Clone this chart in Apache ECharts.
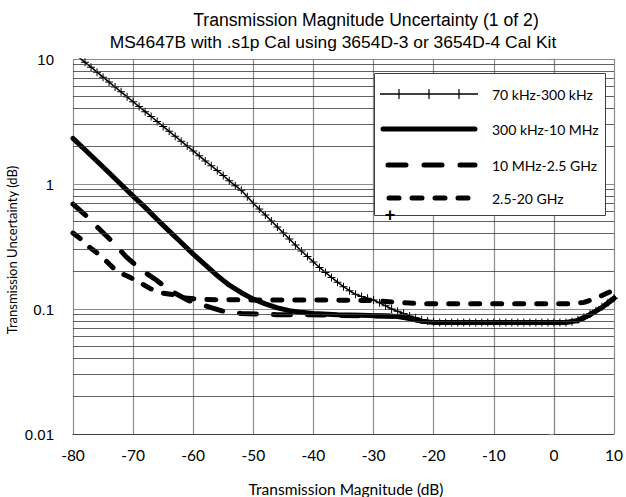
<!DOCTYPE html>
<html>
<head>
<meta charset="utf-8">
<script src="https://cdn.jsdelivr.net/npm/echarts@6/dist/echarts.min.js"></script>
<style>
html,body{margin:0;padding:0;background:#fff;}
#chart{width:626px;height:497px;}
</style>
</head>
<body>
<div id="chart"></div>
<script>
// ---- data ----
const titleLine1 = 'Transmission Magnitude Uncertainty (1 of 2)';
const titleLine2 = 'MS4647B with .s1p Cal using 3654D-3 or 3654D-4 Cal Kit';
const xAxisTitle = 'Transmission Magnitude (dB)';
const yAxisTitle = 'Transmission Uncertainty (dB)';
const seriesNames = ['70 kHz-300 kHz', '300 kHz-10 MHz', '10 MHz-2.5 GHz', '2.5-20 GHz'];
const yTickLabels = ['0.01', '0.1', '1', '10'];
const minorGridValues = [0.02,0.03,0.04,0.05,0.06,0.07,0.08,0.09,0.2,0.3,0.4,0.5,0.6,0.7,0.8,0.9,2,3,4,5,6,7,8,9];

// 70 kHz-300 kHz (one point per dB)
const x1 = [-80,-79,-78,-77,-76,-75,-74,-73,-72,-71,-70,-69,-68,-67,-66,-65,-64,-63,-62,-61,-60,-59,-58,-57,-56,-55,-54,-53,-52,-51,-50,-49,-48,-47,-46,-45,-44,-43,-42,-41,-40,-39,-38,-37,-36,-35,-34,-33,-32,-31,-30,-29,-28,-27,-26,-25,-24,-23,-22,-21,-20,-19,-18,-17,-16,-15,-14,-13,-12,-11,-10,-9,-8,-7,-6,-5,-4,-3,-2,-1,0,1,2,3,4,5,6,7,8,9,10];
const y1 = [11.3,10.3,9.4,8.6,7.85,7.16,6.54,5.97,5.46,4.98,4.55,4.16,3.79,3.47,3.16,2.89,2.64,2.41,2.20,2.01,1.84,1.68,1.53,1.40,1.28,1.17,1.06,0.97,0.89,0.79,0.70,0.63,0.565,0.506,0.453,0.405,0.363,0.325,0.291,0.263,0.238,0.215,0.196,0.179,0.164,0.151,0.140,0.131,0.126,0.122,0.118,0.112,0.106,0.100,0.096,0.092,0.088,0.085,0.082,0.080,0.079,0.078,0.078,0.078,0.078,0.078,0.078,0.078,0.078,0.078,0.078,0.078,0.078,0.078,0.078,0.078,0.078,0.078,0.078,0.078,0.078,0.078,0.078,0.079,0.082,0.086,0.091,0.097,0.104,0.112,0.122];

// 300 kHz-10 MHz
const x2 = [-80,-78,-76,-74,-72,-70,-68,-66,-64,-62,-60,-58,-56,-54,-52,-50,-48,-46,-44,-42,-40,-36,-32,-28,-26,-24,-22,-20,-10,0,2,4,6,8,10];
const y2 = [2.32,1.88,1.52,1.23,0.99,0.80,0.65,0.52,0.42,0.34,0.275,0.225,0.185,0.155,0.135,0.12,0.11,0.102,0.097,0.094,0.092,0.09,0.089,0.088,0.087,0.084,0.080,0.078,0.078,0.078,0.078,0.081,0.090,0.103,0.122];

// 10 MHz-2.5 GHz
const x3 = [-80,-77.7,-75.5,-73.3,-71.1,-68.9,-66.1,-63.9,-60.8,-58,-55,-52,-49,-46,-42,-36,-32,-28,-26,-24,-22,-20,-10,0,2,4,6,8,10];
const y3 = [0.69,0.55,0.43,0.34,0.26,0.21,0.17,0.141,0.117,0.106,0.096,0.092,0.091,0.09,0.09,0.089,0.088,0.088,0.087,0.084,0.080,0.078,0.078,0.078,0.078,0.081,0.090,0.103,0.122];

// 2.5-20 GHz
const x4 = [-80,-78.6,-77.2,-75.5,-73.8,-72.7,-70.8,-69.1,-67.2,-65.5,-63.3,-61.6,-59.4,-57.8,-50,-40,-30,-26,-22,-10,0,3,5,7,10];
const y4 = [0.405,0.36,0.31,0.27,0.225,0.2,0.182,0.165,0.146,0.135,0.13,0.123,0.12,0.119,0.118,0.118,0.117,0.113,0.11,0.11,0.11,0.11,0.113,0.122,0.142];

// ---- build ----
function pairs(xs, ys){ return xs.map((x,i)=>[x, ys[i]]); }
const plusPath = 'path://M3.5,0 h1 v8 h-1 z M0,3.5 h8 v1 h-8 z';
const labelFont = 'Lato, "Open Sans", sans-serif';
const arialFont = '"Liberation Sans", Arial, sans-serif';
const grid = {left:73, right:12, top:59, bottom:63};

// legend drawn as graphic
const lgX0 = 380, lgX1 = 478, lgTextX = 492, lgRows = [94, 129, 165, 198];
const legendGraphics = [
  {type:'rect', left:374, top:73, shape:{width:231, height:142}, style:{fill:'#fff', stroke:'#404040', lineWidth:1}, z:100},
  {type:'line', shape:{x1:lgX0, y1:lgRows[0], x2:lgX1, y2:lgRows[0]}, style:{stroke:'#000', lineWidth:1.5}, z:101},
  {type:'line', shape:{x1:399, y1:lgRows[0]-5, x2:399, y2:lgRows[0]+5}, style:{stroke:'#000', lineWidth:1.2}, z:101},
  {type:'line', shape:{x1:429, y1:lgRows[0]-5, x2:429, y2:lgRows[0]+5}, style:{stroke:'#000', lineWidth:1.2}, z:101},
  {type:'line', shape:{x1:459, y1:lgRows[0]-5, x2:459, y2:lgRows[0]+5}, style:{stroke:'#000', lineWidth:1.2}, z:101},
  {type:'line', shape:{x1:lgX0+3, y1:lgRows[1], x2:lgX1-3, y2:lgRows[1]}, style:{stroke:'#000', lineWidth:5, lineCap:'round'}, z:101},
  {type:'line', shape:{x1:lgX0+8, y1:lgRows[2], x2:lgX1-3, y2:lgRows[2]}, style:{stroke:'#000', lineWidth:5, lineCap:'round', lineDash:[18,18]}, z:101},
  {type:'line', shape:{x1:lgX0+9, y1:lgRows[3], x2:lgX1-6, y2:lgRows[3]}, style:{stroke:'#000', lineWidth:5, lineCap:'round', lineDash:[10,13]}, z:101},
  {type:'text', x:390, y:215, style:{text:'+', fill:'#000', font:'bold 18px ' + arialFont, align:'center', verticalAlign:'middle'}, z:101}
];
seriesNames.forEach((n,i)=>{
  legendGraphics.push({type:'text', x:lgTextX, y:lgRows[i], style:{text:n, fill:'#000', font:'14px ' + labelFont, verticalAlign:'middle'}, z:101});
});

const option = {
  animation:false,
  backgroundColor:'#fff',
  grid: grid,
  xAxis: {
    type:'value', min:-80, max:10, interval:10,
    axisLine:{show:true, onZero:false, lineStyle:{color:'#404040', width:1}},
    axisTick:{show:false},
    axisLabel:{color:'#000', fontFamily:labelFont, fontSize:15.5, margin:13},
    splitLine:{show:true, lineStyle:{color:'#8c8c8c', width:1.2}}
  },
  yAxis: {
    type:'log', logBase:10, min:0.01, max:10,
    axisLine:{show:true, lineStyle:{color:'#8c8c8c', width:1.2}},
    axisTick:{show:true, inside:false, length:5, lineStyle:{color:'#8c8c8c', width:1.2}},
    axisLabel:{color:'#000', fontFamily:arialFont, fontSize:15, margin:19,
      formatter:function(v){ const m = {0.01:yTickLabels[0], 0.1:yTickLabels[1], 1:yTickLabels[2], 10:yTickLabels[3]}; for (const k in m){ if (Math.abs(v - Number(k)) < 1e-9) return m[k]; } return ''; }},
    splitLine:{show:true, lineStyle:{color:'#8c8c8c', width:1.2}}
  },
  graphic: [
    {type:'text', x:366, y:20, style:{text:titleLine1, fill:'#000', font:'17.6px ' + arialFont, align:'center', verticalAlign:'middle'}},
    {type:'text', x:333, y:42, style:{text:titleLine2, fill:'#000', font:'17.4px ' + arialFont, align:'center', verticalAlign:'middle'}},
    {type:'text', x:346, y:489, style:{text:xAxisTitle, fill:'#000', font:'15.5px ' + labelFont, align:'center', verticalAlign:'middle'}},
    {type:'text', x:12, y:250, rotation:Math.PI/2, style:{text:yAxisTitle, fill:'#000', font:'13px ' + labelFont, align:'center', verticalAlign:'middle'}}
  ].concat(legendGraphics),
  series: [
    {
      name:'minor grid', type:'line', data:[], z:1, silent:true,
      markLine:{silent:true, symbol:['none','none'], label:{show:false}, animation:false,
        lineStyle:{color:'#3a3a3a', width:0.8, type:'solid'},
        data: minorGridValues.map(v=>({yAxis:v}))}
    },
    {
      name:seriesNames[3], type:'line', data:pairs(x4,y4), showSymbol:false, symbol:'none', clip:true,
      lineStyle:{color:'#000', width:5, type:[9,13], cap:'round', join:'round'}
    },
    {
      name:seriesNames[2], type:'line', data:pairs(x3,y3), showSymbol:false, symbol:'none', clip:true,
      lineStyle:{color:'#000', width:5, type:[17,17], cap:'round', join:'round'}
    },
    {
      name:seriesNames[1], type:'line', data:pairs(x2,y2), showSymbol:false, symbol:'none', clip:true,
      lineStyle:{color:'#000', width:5, cap:'round', join:'round'}
    },
    {
      name:seriesNames[0], type:'line', data:pairs(x1,y1), symbol:plusPath, symbolSize:8, showSymbol:true,
      clip:true, itemStyle:{color:'#000'},
      lineStyle:{color:'#000', width:1.5}
    }
  ]
};
const chart = echarts.init(document.getElementById('chart'), null, {renderer:'svg'});
chart.setOption(option);
</script>
</body>
</html>
